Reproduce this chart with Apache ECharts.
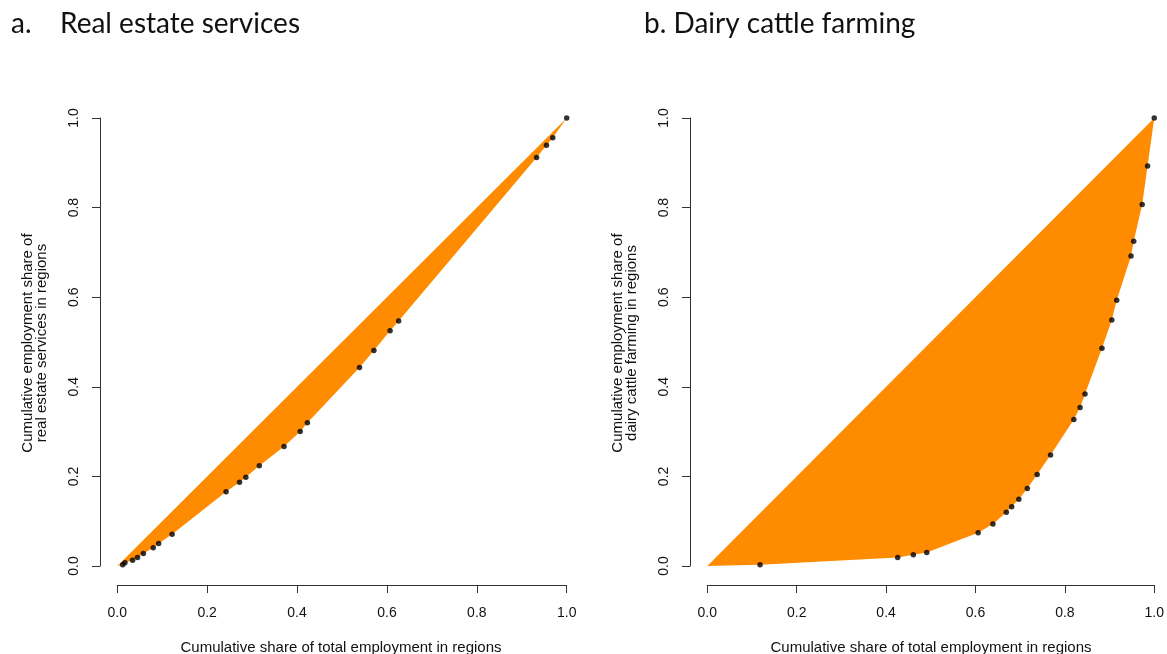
<!DOCTYPE html>
<html>
<head>
<meta charset="utf-8">
<script src="https://cdn.jsdelivr.net/npm/echarts@6/dist/echarts.min.js"></script>
<style>
html,body{margin:0;padding:0;background:#fff;}
#chart{width:1167px;height:654px;}
</style>
</head>
<body>
<div id="chart"></div>
<script>
// ---- Data ----
const titleALetter = "a.";
const titleA = "Real estate services";
const titleB = "b. Dairy cattle farming";
const xTitle = "Cumulative share of total employment in regions";
const yTitleA = "Cumulative employment share of\nreal estate services in regions";
const yTitleB = "Cumulative employment share of\ndairy cattle farming in regions";
const origin = [0, 0];

// Panel a: real estate services (cumulative share of total employment, cumulative share of sector)
const realX = [0.012, 0.017, 0.034, 0.045, 0.058, 0.080, 0.092, 0.122, 0.242, 0.272, 0.286, 0.316,
               0.371, 0.407, 0.423, 0.539, 0.571, 0.607, 0.626, 0.933, 0.955, 0.969, 1.0];
const realY = [0.003, 0.007, 0.013, 0.019, 0.028, 0.041, 0.050, 0.071, 0.166, 0.187, 0.198, 0.224,
               0.267, 0.300, 0.320, 0.443, 0.481, 0.525, 0.547, 0.912, 0.939, 0.956, 1.0];

// Panel b: dairy cattle farming
const dairyX = [0.118, 0.426, 0.461, 0.491, 0.606, 0.639, 0.669, 0.681, 0.697, 0.716, 0.738, 0.768,
                0.820, 0.834, 0.845, 0.883, 0.905, 0.916, 0.948, 0.954, 0.973, 0.985, 1.0];
const dairyY = [0.003, 0.019, 0.025, 0.030, 0.074, 0.094, 0.120, 0.132, 0.149, 0.173, 0.204, 0.248,
                0.327, 0.354, 0.384, 0.486, 0.549, 0.593, 0.692, 0.725, 0.807, 0.893, 1.0];

// ---- Build options ----
const FILL = '#FF8C00';
const AXIS_COLOR = '#333';
const LABEL_FONT = '"Liberation Sans", Arial, sans-serif';
const TITLE_FONT = '28px Lato, "Open Sans", sans-serif';

function pairs(xs, ys) { return xs.map((x, i) => [x, ys[i]]); }

function lorenzPolygon(xs, ys, gridIndex) {
  const pts = [origin].concat(pairs(xs, ys));
  return {
    type: 'custom',
    xAxisIndex: gridIndex,
    yAxisIndex: gridIndex,
    coordinateSystem: 'cartesian2d',
    data: [0],
    silent: true,
    z: 1,
    renderItem: function (params, api) {
      const poly = pts.map(p => api.coord(p));
      return {
        type: 'polygon',
        shape: { points: poly },
        style: { fill: FILL, stroke: null }
      };
    }
  };
}

function dots(xs, ys, gridIndex) {
  return {
    type: 'scatter',
    xAxisIndex: gridIndex,
    yAxisIndex: gridIndex,
    data: pairs(xs, ys),
    symbol: 'circle',
    symbolSize: 5.5,
    itemStyle: { color: '#000' },
    silent: true,
    z: 3
  };
}

function xAxisCfg(gridIndex) {
  return {
    type: 'value', gridIndex: gridIndex, min: 0, max: 1, interval: 0.2,
    position: 'bottom', offset: 19,
    axisLine: { show: true, onZero: false, lineStyle: { color: AXIS_COLOR, width: 1 } },
    axisTick: { show: true, length: 8, inside: false, lineStyle: { color: AXIS_COLOR, width: 1 } },
    axisLabel: { show: true, fontSize: 14, fontFamily: LABEL_FONT, color: '#111', margin: 21,
                 formatter: v => v.toFixed(1) },
    splitLine: { show: false }
  };
}

function yAxisCfg(gridIndex) {
  return {
    type: 'value', gridIndex: gridIndex, min: 0, max: 1, interval: 0.2,
    position: 'left', offset: 17.3,
    axisLine: { show: true, onZero: false, lineStyle: { color: AXIS_COLOR, width: 1 } },
    axisTick: { show: true, length: 8, inside: false, lineStyle: { color: AXIS_COLOR, width: 1 } },
    axisLabel: { show: true, fontSize: 14, fontFamily: LABEL_FONT, color: '#111', margin: 19, rotate: 90,
                 formatter: v => v.toFixed(1) },
    splitLine: { show: false }
  };
}

function textEl(text, x, y, opts) {
  return Object.assign({
    type: 'text', x: x, y: y, silent: true,
    style: Object.assign({
      text: text, fill: '#111', font: '15px ' + LABEL_FONT,
      align: 'center', verticalAlign: 'middle'
    }, opts.style || {})
  }, opts.el || {});
}

const option = {
  animation: false,
  backgroundColor: '#fff',
  grid: [
    { left: 117.3, top: 118, width: 449.4, height: 448, containLabel: false },
    { left: 707.3, top: 118, width: 448.7, height: 448, containLabel: false }
  ],
  xAxis: [xAxisCfg(0), xAxisCfg(1)],
  yAxis: [yAxisCfg(0), yAxisCfg(1)],
  series: [
    lorenzPolygon(realX, realY, 0),
    dots(realX, realY, 0),
    lorenzPolygon(dairyX, dairyY, 1),
    dots(dairyX, dairyY, 1)
  ],
  graphic: [
    textEl(titleALetter, 11, 24, { style: { align: 'left', font: TITLE_FONT, fill: '#111' } }),
    textEl(titleA, 60, 24, { style: { align: 'left', font: TITLE_FONT, fill: '#111' } }),
    textEl(titleB, 644, 24, { style: { align: 'left', font: TITLE_FONT, fill: '#111' } }),
    textEl(xTitle, 341, 648, {}),
    textEl(xTitle, 931, 648, {}),
    textEl(yTitleA, 35, 343, { style: { lineHeight: 14 }, el: { rotation: Math.PI / 2 } }),
    textEl(yTitleB, 625, 343, { style: { lineHeight: 14 }, el: { rotation: Math.PI / 2 } })
  ]
};

const chart = echarts.init(document.getElementById('chart'), null, { renderer: 'canvas' });
chart.setOption(option);
</script>
</body>
</html>
